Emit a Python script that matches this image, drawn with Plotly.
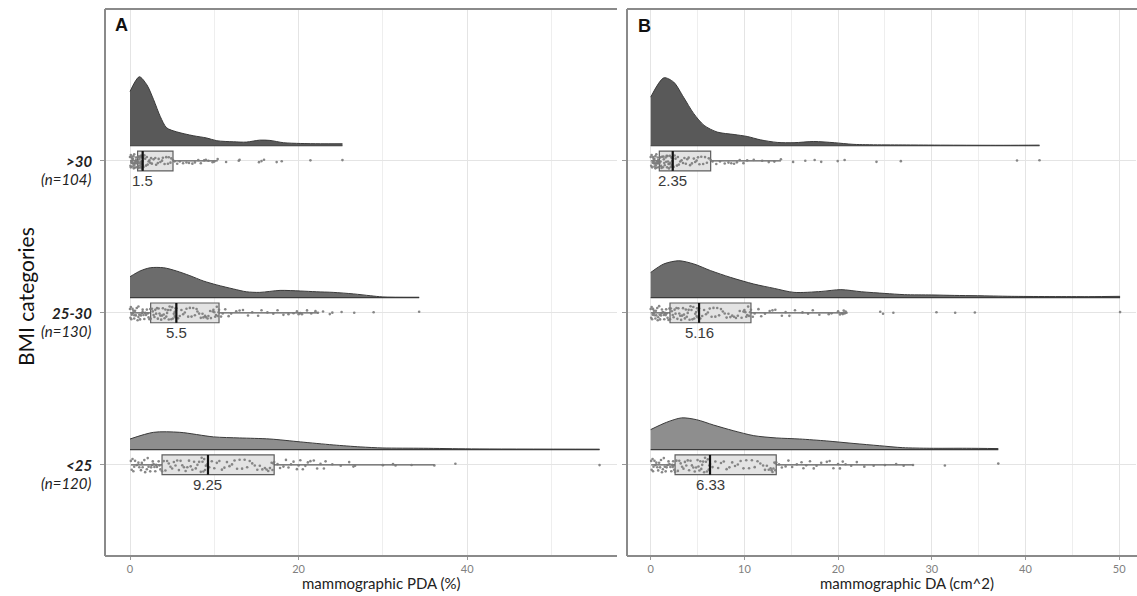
import plotly.graph_objects as go

# ---------------- data ----------------
categories = ['<25', '25-30', '>30']
cat_counts = ['(n=120)', '(n=130)', '(n=104)']
cat_pos = [1, 2, 3]

# Panel A : mammographic PDA (%)
pda_lt25 = [0.1,0.2,0.3,0.4,0.5,0.6,0.8,1.0,1.1,1.3,1.4,1.5,1.7,1.8,2.0,2.1,2.2,2.4,2.5,2.6,2.7,2.8,2.9,3.0,3.1,3.2,3.4,3.5,3.6,3.8,
            4.0,4.2,4.4,4.6,4.8,5.0,5.2,5.4,5.6,5.8,6.0,6.2,6.4,6.6,6.8,7.0,7.2,7.4,7.6,7.8,8.0,8.2,8.4,8.5,8.6,8.7,8.8,8.9,9.0,9.2,
            9.4,9.7,10.0,10.3,10.6,10.9,11.2,11.5,11.8,12.1,12.4,12.7,13.0,13.3,13.6,13.9,14.2,14.5,14.8,15.1,15.4,15.7,16.0,16.2,16.4,16.6,16.8,16.9,17.0,17.1,
            17.5,17.8,18.2,18.5,18.8,19.1,19.4,19.8,20.0,20.2,20.5,20.8,21.1,21.4,21.8,22.2,22.6,23.0,23.2,24.0,25.0,26.0,26.5,26.7,30.0,31.2,31.5,33.4,36.1,38.6,55.7]
pda_25_30 = [0.0,0.05,0.1,0.15,0.2,0.3,0.3,0.4,0.5,0.5,0.6,0.7,0.8,0.9,1.0,1.0,1.1,1.2,1.3,1.4,1.5,1.5,1.6,1.7,1.8,1.9,2.0,2.1,2.2,2.3,2.4,2.45,
             2.6,2.7,2.8,2.9,3.0,3.1,3.2,3.3,3.4,3.5,3.6,3.7,3.8,3.9,4.0,4.1,4.2,4.3,4.4,4.5,4.6,4.7,4.8,4.9,5.0,5.1,5.2,5.3,5.3,5.4,5.4,5.45,5.5,
             5.7,5.9,6.1,6.3,6.5,6.7,6.9,7.1,7.3,7.5,7.7,7.9,8.0,8.2,8.4,8.6,8.7,8.9,9.0,9.2,9.3,9.5,9.6,9.8,9.9,10.0,10.1,10.2,10.3,10.4,10.5,10.56,
             10.8,11.0,11.3,11.7,12.0,12.6,13.0,13.4,14.0,14.5,15.2,15.6,16.3,17.0,17.5,18.2,18.8,19.4,19.8,20.0,20.2,20.4,21.0,21.5,22.0,22.3,
             22.9,23.7,24.0,25.1,26.6,28.9,34.3]
pda_gt30 = [0.0,0.05,0.1,0.1,0.15,0.2,0.2,0.25,0.3,0.3,0.35,0.4,0.4,0.45,0.5,0.5,0.55,0.6,0.6,0.65,0.7,0.7,0.75,0.8,0.85,0.9,
            0.9,0.95,0.95,1.0,1.0,1.05,1.1,1.1,1.15,1.2,1.2,1.25,1.3,1.3,1.3,1.35,1.35,1.4,1.4,1.4,1.45,1.45,1.5,1.5,1.5,1.5,
            1.6,1.7,1.8,1.9,2.0,2.1,2.2,2.3,2.4,2.5,2.6,2.8,3.0,3.1,3.3,3.4,3.6,3.8,3.9,4.1,4.3,4.5,4.6,4.8,4.9,5.1,
            5.3,5.6,5.9,6.3,6.7,7.0,7.4,7.7,8.1,8.4,8.8,9.0,9.3,9.8,10.0,10.4,11.4,12.9,13.0,15.3,15.6,15.9,17.4,18.0,21.4,25.2]

pda_q1 = [3.8, 2.45, 0.9]
pda_med = [9.25, 5.5, 1.5]
pda_q3 = [17.1, 10.56, 5.1]
pda_lo = [0.1, 0.0, 0.0]
pda_hi = [36.1, 22.3, 10.4]
pda_labels = ['9.25', '5.5', '1.5']

# density outlines (x value, height in y-axis units)
pda_dens_x = [
    [0, 2.8, 5.9, 9.9, 13.0, 16.6, 20.2, 24.1, 27.3, 30.0, 34.8, 40.5, 55.7],
    [0, 1.2, 2.4, 4.0, 5.5, 7.1, 8.7, 10.3, 12.3, 13.8, 15.4, 17.8, 20.2, 22.1, 24.1, 26.5, 28.5, 30.0, 34.3],
    [0, 1.1, 2.0, 2.8, 3.6, 4.35, 5.5, 7.5, 9.1, 10.3, 12.3, 13.8, 15.4, 16.6, 18.2, 20.2, 22.6, 25.2],
]
pda_dens_h = [
    [0.070, 0.114, 0.114, 0.084, 0.077, 0.070, 0.051, 0.031, 0.018, 0.011, 0.009, 0.005, 0.003],
    [0.138, 0.176, 0.197, 0.197, 0.176, 0.145, 0.110, 0.084, 0.057, 0.039, 0.035, 0.048, 0.044, 0.039, 0.035, 0.025, 0.013, 0.005, 0.003],
    [0.357, 0.454, 0.401, 0.303, 0.191, 0.118, 0.092, 0.066, 0.051, 0.033, 0.026, 0.024, 0.037, 0.035, 0.020, 0.015, 0.013, 0.013],
]

# Panel B : mammographic DA (cm^2)
da_lt25 = [0.05,0.1,0.2,0.25,0.3,0.4,0.5,0.6,0.7,0.8,0.9,1.0,1.1,1.2,1.3,1.4,1.5,1.6,1.7,1.8,1.9,2.0,2.1,2.2,2.3,2.35,2.4,2.45,2.5,2.6,
           2.75,2.9,3.05,3.2,3.35,3.5,3.65,3.8,3.95,4.1,4.25,4.4,4.55,4.7,4.85,5.0,5.1,5.2,5.3,5.4,5.5,5.6,5.7,5.8,5.9,6.0,6.1,6.2,6.25,6.33,
           6.6,6.9,7.2,7.5,7.8,8.1,8.4,8.7,9.0,9.3,9.6,9.9,10.2,10.5,10.8,11.1,11.4,11.7,12.0,12.2,12.4,12.6,12.8,12.9,13.0,13.1,13.2,13.3,13.35,13.4,
           13.7,14.0,14.4,14.7,15.1,15.6,16.1,16.3,16.6,17.0,17.4,17.7,18.2,18.8,19.1,19.5,20.0,20.2,20.5,20.8,21.4,22.0,22.8,23.8,25.0,26.2,27.0,28.0,31.4,37.1]
da_25_30 = [0.0,0.05,0.1,0.15,0.2,0.25,0.3,0.35,0.4,0.5,0.55,0.6,0.7,0.75,0.8,0.9,0.95,1.0,1.1,1.15,1.2,1.3,1.4,1.45,1.5,1.6,1.65,1.7,1.8,1.9,2.0,2.06,
            2.15,2.25,2.35,2.45,2.55,2.65,2.75,2.85,2.95,3.05,3.15,3.25,3.35,3.45,3.55,3.65,3.75,3.85,3.95,4.05,4.15,4.25,4.35,4.45,4.55,4.65,4.75,4.85,4.9,4.95,5.0,5.1,5.16,
            5.3,5.5,5.7,5.9,6.1,6.3,6.5,6.7,6.9,7.1,7.3,7.5,7.7,7.9,8.1,8.3,8.5,8.7,8.9,9.1,9.3,9.5,9.7,9.9,10.0,10.1,10.2,10.3,10.4,10.5,10.6,10.7,
            10.9,11.1,11.5,11.8,12.2,12.7,13.0,13.3,14.0,14.4,14.8,15.4,16.2,16.8,17.3,18.0,19.0,19.3,20.0,20.2,20.4,20.5,20.6,20.7,20.8,20.9,
            24.5,24.8,25.9,30.5,32.5,34.6,50.1]
da_gt30 = [0.0,0.05,0.1,0.15,0.2,0.25,0.3,0.3,0.35,0.4,0.4,0.45,0.5,0.5,0.55,0.6,0.6,0.65,0.7,0.7,0.75,0.8,0.8,0.85,0.9,0.92,
           1.0,1.05,1.1,1.15,1.2,1.3,1.35,1.4,1.45,1.5,1.6,1.65,1.7,1.75,1.8,1.85,1.9,1.95,2.0,2.05,2.1,2.15,2.2,2.25,2.3,2.35,
           2.45,2.55,2.65,2.8,2.9,3.0,3.15,3.3,3.45,3.6,3.75,3.9,4.05,4.2,4.4,4.6,4.75,4.9,5.05,5.2,5.4,5.6,5.8,6.0,6.2,6.4,
           6.6,7.0,7.4,7.9,8.3,8.6,8.9,9.2,9.5,9.9,10.3,11.0,11.9,12.6,13.2,13.9,15.2,16.5,17.5,18.2,19.96,20.7,24.1,26.7,39.1,41.5]

da_q1 = [2.6, 2.06, 0.92]
da_med = [6.33, 5.16, 2.35]
da_q3 = [13.4, 10.7, 6.4]
da_lo = [0.05, 0.0, 0.0]
da_hi = [28.0, 20.9, 13.9]
da_labels = ['6.33', '5.16', '2.35']

da_dens_x = [
    [0, 1.7, 3.3, 4.9, 6.7, 8.8, 11.0, 13.4, 15.9, 18.8, 21.6, 24.4, 26.9, 29.8, 33.7, 37.1],
    [0, 1.4, 3.0, 4.6, 6.4, 8.5, 11.0, 13.2, 15.3, 18.2, 20.3, 22.5, 25.0, 27.1, 30.0, 32.4, 34.9, 38.5, 46.7, 50.1],
    [0, 1.4, 2.45, 3.5, 4.6, 5.7, 7.1, 8.9, 10.3, 11.7, 13.5, 15.3, 17.4, 19.6, 21.7, 28.1, 37.7, 41.5],
]
da_dens_h = [
    [0.132, 0.180, 0.209, 0.197, 0.162, 0.125, 0.092, 0.077, 0.070, 0.057, 0.041, 0.026, 0.013, 0.009, 0.009, 0.007],
    [0.166, 0.222, 0.243, 0.222, 0.178, 0.134, 0.090, 0.061, 0.035, 0.041, 0.053, 0.039, 0.028, 0.020, 0.018, 0.015, 0.013, 0.009, 0.007, 0.009],
    [0.320, 0.447, 0.419, 0.320, 0.211, 0.134, 0.090, 0.074, 0.061, 0.039, 0.022, 0.020, 0.028, 0.020, 0.009, 0.005, 0.003, 0.004],
]

# ---------------- styling ----------------
violin_fill = ['#8e8e8e', '#6c6c6c', '#595959']
violin_line = '#3a3a3a'
box_fill = '#e3e3e3'
box_line = '#5e5e5e'
point_color = '#7a7a7a'
violin_offset = 0.1
box_width = 0.13
jitter_width = 0.1
FONT = 'Lato'

fig = go.Figure()

panels = [
    dict(xa='x', ya='y', pts=[pda_lt25, pda_25_30, pda_gt30], q1=pda_q1, med=pda_med, q3=pda_q3,
         lo=pda_lo, hi=pda_hi, labels=pda_labels, dx=pda_dens_x, dh=pda_dens_h),
    dict(xa='x2', ya='y2', pts=[da_lt25, da_25_30, da_gt30], q1=da_q1, med=da_med, q3=da_q3,
         lo=da_lo, hi=da_hi, labels=da_labels, dx=da_dens_x, dh=da_dens_h),
]

annotations = []
for p in panels:
    for i, c in enumerate(cat_pos):
        base = c + violin_offset
        xs = p['dx'][i]
        hs = p['dh'][i]
        # baseline of half violin
        fig.add_trace(go.Scatter(x=xs, y=[base] * len(xs), mode='lines',
                                 line=dict(color=violin_line, width=1.2),
                                 xaxis=p['xa'], yaxis=p['ya'], showlegend=False, hoverinfo='skip'))
        fig.add_trace(go.Scatter(x=xs, y=[base + h for h in hs], mode='lines',
                                 line=dict(color=violin_line, width=1, shape='spline', smoothing=0.8),
                                 fill='tonexty', fillcolor=violin_fill[i],
                                 xaxis=p['xa'], yaxis=p['ya'], showlegend=False, hoverinfo='skip'))
        # box
        fig.add_trace(go.Box(y=[c], q1=[p['q1'][i]], median=[p['med'][i]], q3=[p['q3'][i]],
                             lowerfence=[p['lo'][i]], upperfence=[p['hi'][i]],
                             orientation='h', width=box_width, whiskerwidth=0, boxpoints=False,
                             fillcolor=box_fill, line=dict(color=box_line, width=1.2),
                             xaxis=p['xa'], yaxis=p['ya'], showlegend=False, hoverinfo='skip'))
        # jittered points
        fig.add_trace(go.Box(x=p['pts'][i], y0=c, orientation='h', width=jitter_width,
                             boxpoints='all', jitter=1, pointpos=0,
                             fillcolor='rgba(0,0,0,0)', line=dict(color='rgba(0,0,0,0)', width=0),
                             marker=dict(color=point_color, size=2.6, opacity=0.9),
                             xaxis=p['xa'], yaxis=p['ya'], showlegend=False, hoverinfo='skip'))
        # median line
        fig.add_trace(go.Scatter(x=[p['med'][i], p['med'][i]], y=[c - box_width / 2, c + box_width / 2],
                                 mode='lines', line=dict(color='#111111', width=2.2),
                                 xaxis=p['xa'], yaxis=p['ya'], showlegend=False, hoverinfo='skip'))
        annotations.append(dict(x=p['med'][i], y=c, xref=p['xa'], yref=p['ya'], text=p['labels'][i],
                                showarrow=False, yshift=-20, xanchor='center', yanchor='middle',
                                font=dict(family='Liberation Sans', size=15, color='#3a3a3a')))

# category labels (left of panel A)
for c, name, n in zip(cat_pos, categories, cat_counts):
    annotations.append(dict(x=94 / 1137, y=c, xref='paper', yref='y', text='<b><i>' + name.replace('<', '&lt;').replace('>', '&gt;') + '</i></b>',
                            showarrow=False, xanchor='right', yanchor='middle',
                            font=dict(family=FONT, size=15, color='#222222')))
    annotations.append(dict(x=94 / 1137, y=c, xref='paper', yref='y', text='<i>' + n + '</i>',
                            showarrow=False, xanchor='right', yanchor='middle', yshift=-18,
                            font=dict(family=FONT, size=15, color='#222222')))

annotations += [
    dict(x=25 / 1137, y=(596 - 297) / 596, xref='paper', yref='paper', text='BMI categories', textangle=-90,
         showarrow=False, xanchor='center', yanchor='middle', font=dict(family=FONT, size=21, color='#111111')),
    dict(x=381 / 1137, y=(596 - 583) / 596, xref='paper', yref='paper', text='mammographic PDA (%)',
         showarrow=False, xanchor='center', yanchor='middle', font=dict(family=FONT, size=15, color='#222222')),
    dict(x=907 / 1137, y=(596 - 583) / 596, xref='paper', yref='paper', text='mammographic DA (cm^2)',
         showarrow=False, xanchor='center', yanchor='middle', font=dict(family=FONT, size=15, color='#222222')),
    dict(x=121 / 1137, y=(596 - 25) / 596, xref='paper', yref='paper', text='<b>A</b>',
         showarrow=False, xanchor='center', yanchor='middle', font=dict(family='Liberation Sans', size=18, color='#111111')),
    dict(x=644 / 1137, y=(596 - 26) / 596, xref='paper', yref='paper', text='<b>B</b>',
         showarrow=False, xanchor='center', yanchor='middle', font=dict(family='Liberation Sans', size=18, color='#111111')),
]

ydom = [(596 - 556) / 596, (596 - 9) / 596]
axA = [105 / 1137, 617 / 1137]
axB = [627 / 1137, 1136 / 1137]
grid_major = '#e4e4e4'
grid_minor = '#eeeeee'
frame = '#8a8a8a'
tickfont = dict(family=FONT, size=11, color='#808080')

# panel frames
frame_line = dict(color=frame, width=2)
shapes = [
    dict(type='line', xref='paper', yref='paper', x0=axA[0], x1=axA[0], y0=ydom[0], y1=ydom[1], line=frame_line),
    dict(type='line', xref='paper', yref='paper', x0=axA[0], x1=axA[1], y0=ydom[0], y1=ydom[0], line=frame_line),
    dict(type='line', xref='paper', yref='paper', x0=axA[0], x1=axA[1], y0=ydom[1], y1=ydom[1], line=frame_line),
    dict(type='line', xref='paper', yref='paper', x0=axB[0], x1=axB[0], y0=ydom[0], y1=ydom[1], line=frame_line),
    dict(type='line', xref='paper', yref='paper', x0=axB[0], x1=1.0, y0=ydom[0], y1=ydom[0], line=frame_line),
    dict(type='line', xref='paper', yref='paper', x0=axB[0], x1=1.0, y0=ydom[1], y1=ydom[1], line=frame_line),
]

common_y = dict(range=[0.4, 4.0], tickvals=cat_pos, ticktext=['', '', ''], showgrid=True, gridcolor=grid_major,
                gridwidth=1, zeroline=False, showline=False, automargin=False,
                ticks='outside', ticklen=4, tickcolor='#999999', showticklabels=False, domain=ydom)
common_x = dict(showgrid=True, gridcolor=grid_major, zeroline=False, showline=False, automargin=False,
                ticks='outside', ticklen=3, tickcolor='#999999', tickfont=tickfont)

fig.update_layout(
    width=1137, height=596, margin=dict(l=0, r=0, t=0, b=0),
    paper_bgcolor='white', plot_bgcolor='white', showlegend=False, boxmode='overlay',
    xaxis=dict(domain=axA, range=[-2.966, 57.77], anchor='y', tickvals=[0, 20, 40],
               minor=dict(tickvals=[10, 30, 50], showgrid=True, gridcolor=grid_minor, ticks=''), **common_x),
    yaxis=dict(anchor='x', **common_y),
    xaxis2=dict(domain=axB, range=[-2.53, 51.8], anchor='y2', tickvals=[0, 10, 20, 30, 40, 50],
                minor=dict(tickvals=[5, 15, 25, 35, 45], showgrid=True, gridcolor=grid_minor, ticks=''), **common_x),
    yaxis2=dict(anchor='x2', **common_y),
    annotations=annotations,
    shapes=shapes,
)

fig.write_html('out.html')
